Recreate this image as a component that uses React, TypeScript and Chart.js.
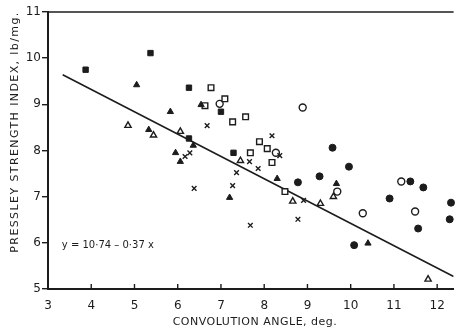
import React, { useEffect, useRef } from "react";
import { Chart, registerables } from "chart.js";

Chart.register(...registerables);

// ---- data (convolution angle in deg, Pressley index in lb/mg) ----
const filledSquares: [number, number][] = [
  [3.87, 9.75], [5.37, 10.11], [6.26, 9.36], [7.0, 8.84], [7.29, 7.95], [6.26, 8.26],
];
const filledTriangles: [number, number][] = [
  [5.05, 9.42], [5.83, 8.84], [5.33, 8.45], [5.95, 7.95], [6.06, 7.76], [6.36, 8.11],
  [6.54, 8.99], [7.2, 6.98], [8.3, 7.39], [9.67, 7.28], [10.4, 5.99],
];
const openTriangles: [number, number][] = [
  [4.85, 8.54], [5.44, 8.33], [6.06, 8.41], [7.45, 7.78], [8.66, 6.9], [9.3, 6.85],
  [9.6, 7.0], [11.79, 5.21],
];
const crosses: [number, number][] = [
  [6.68, 8.54], [6.17, 7.87], [6.28, 7.95], [6.38, 7.18], [7.36, 7.52], [7.27, 7.24],
  [7.66, 7.76], [7.86, 7.61], [7.68, 6.38], [8.78, 6.51], [8.91, 6.92], [8.36, 7.89],
  [8.18, 8.32],
];
const openSquares: [number, number][] = [
  [6.63, 8.97], [6.77, 9.36], [7.09, 9.12], [7.27, 8.62], [7.57, 8.73], [7.89, 8.19],
  [8.07, 8.04], [7.68, 7.95], [8.18, 7.74], [8.48, 7.11],
];
const openCircles: [number, number][] = [
  [6.97, 9.01], [8.89, 8.93], [8.27, 7.95], [10.28, 6.64], [11.17, 7.33], [11.49, 6.68],
  [9.69, 7.11],
];
const filledCircles: [number, number][] = [
  [9.58, 8.06], [9.96, 7.65], [9.28, 7.44], [8.78, 7.31], [10.9, 6.96], [11.38, 7.33],
  [11.68, 7.2], [12.32, 6.87], [12.29, 6.51], [11.56, 6.31], [10.08, 5.95],
];
const fitX = [3.34, 12.38];
const fitY = [9.64, 5.27];

const xTicks = [3, 4, 5, 6, 7, 8, 9, 10, 11, 12];
const yTicks = [5, 6, 7, 8, 9, 10, 11];

const xTitle = "CONVOLUTION ANGLE, deg.";
const yTitle = "PRESSLEY STRENGTH INDEX, lb/mg.";
const equation = "y = 10·74 – 0·37 x";

const INK = "#1c1c1c";
const FONT = "'DejaVu Sans', sans-serif";

const toPts = (a: [number, number][]) => a.map(([x, y]) => ({ x, y }));

export default function App() {
  const ref = useRef<HTMLCanvasElement | null>(null);

  useEffect(() => {
    if (!ref.current) return;
    const mk = (data: [number, number][], style: any, filled: boolean, r: number) => ({
      type: "scatter" as const,
      data: toPts(data),
      pointStyle: style,
      pointRadius: r,
      pointBorderWidth: filled ? 1 : 1.4,
      pointBorderColor: INK,
      pointBackgroundColor: filled ? INK : "#ffffff",
      showLine: false,
      clip: false as any,
    });

    const deco = {
      id: "deco",
      afterDraw(chart: any) {
        const ctx = chart.ctx;
        const { left, right, top, bottom } = chart.chartArea;
        const xs = chart.scales.x;
        const ys = chart.scales.y;
        ctx.save();
        ctx.strokeStyle = INK;
        ctx.lineWidth = 1.6;
        ctx.beginPath();
        ctx.moveTo(left, top);
        ctx.lineTo(right, top);
        ctx.stroke();
        ctx.lineWidth = 1.4;
        xTicks.forEach((v) => {
          const px = xs.getPixelForValue(v);
          ctx.beginPath();
          ctx.moveTo(px, bottom);
          ctx.lineTo(px, bottom - 5);
          ctx.stroke();
        });
        ctx.fillStyle = INK;
        // equation
        ctx.font = `10px ${FONT}`;
        ctx.textAlign = "left";
        ctx.textBaseline = "middle";
        ctx.fillText(equation, xs.getPixelForValue(3.32), ys.getPixelForValue(5.95));
        // x title
        (ctx as any).letterSpacing = "0.5px";
        ctx.font = `11px ${FONT}`;
        ctx.textAlign = "center";
        ctx.textBaseline = "middle";
        ctx.fillText(xTitle, 255, 322);
        // y title
        (ctx as any).letterSpacing = "1.4px";
        ctx.translate(15, 132);
        ctx.rotate(-Math.PI / 2);
        ctx.fillText(yTitle, 0, 0);
        ctx.restore();
      },
    };

    const chart = new Chart(ref.current, {
      type: "scatter",
      data: {
        datasets: [
          mk(filledSquares, "rect", true, 3.8),
          mk(filledTriangles, "triangle", true, 3.6),
          mk(openTriangles, "triangle", false, 3.6),
          mk(crosses, "crossRot", false, 3.3),
          mk(openSquares, "rect", false, 4),
          mk(openCircles, "circle", false, 3.5),
          mk(filledCircles, "circle", true, 3.5),
          {
            type: "line" as const,
            data: fitX.map((x, i) => ({ x, y: fitY[i] })),
            borderColor: INK,
            borderWidth: 1.6,
            pointRadius: 0,
            fill: false,
            tension: 0,
          } as any,
        ],
      },
      options: {
        responsive: false,
        animation: false,
        layout: { padding: { top: 12, right: 0, left: 0, bottom: 0 } },
        plugins: { legend: { display: false }, tooltip: { enabled: false } },
        scales: {
          x: {
            type: "linear",
            min: 3,
            max: 12.38,
            afterBuildTicks: (s: any) => {
              s.ticks = xTicks.map((v) => ({ value: v }));
            },
            afterFit: (s: any) => {
              s.height = 43;
            },
            grid: { display: false },
            border: { display: true, color: INK, width: 2 },
            ticks: {
              color: INK,
              padding: 2,
              font: { family: FONT, size: 12 },
              maxRotation: 0,
              callback: (v: any) => String(v),
            },
          },
          y: {
            type: "linear",
            min: 5,
            max: 11,
            afterBuildTicks: (s: any) => {
              s.ticks = yTicks.map((v) => ({ value: v }));
            },
            afterFit: (s: any) => {
              s.width = 48;
            },
            grid: {
              display: true,
              drawOnChartArea: false,
              drawTicks: true,
              tickLength: 6,
              color: INK,
              lineWidth: 1.4,
            },
            border: { display: true, color: INK, width: 2 },
            ticks: {
              color: INK,
              padding: 1,
              font: { family: FONT, size: 12 },
              callback: (v: any) => String(v),
            },
          },
        },
      },
      plugins: [deco],
    });
    return () => chart.destroy();
  }, []);

  return (
    <div style={{ position: "fixed", left: 0, top: 0, width: 459, height: 332, background: "#fff" }}>
      <canvas ref={ref} width={459} height={332} style={{ display: "block" }} />
    </div>
  );
}
